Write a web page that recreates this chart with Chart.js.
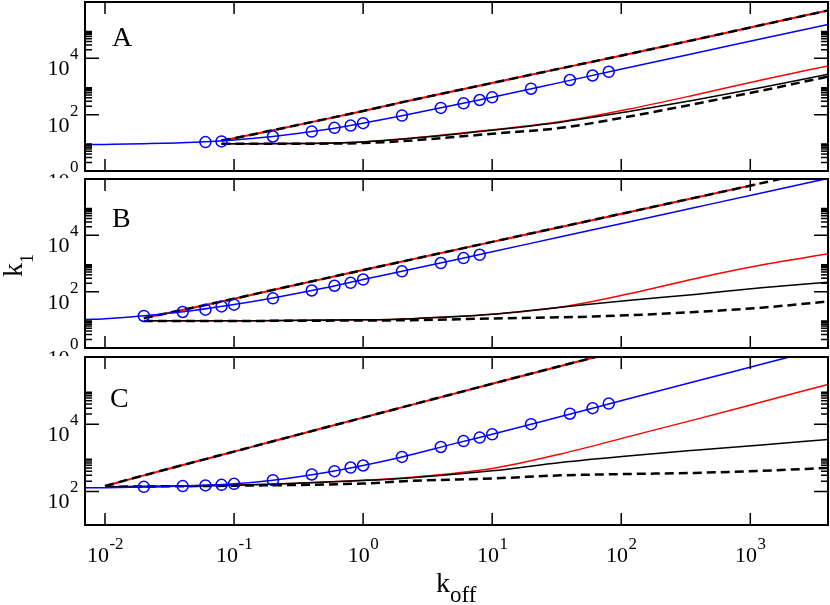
<!DOCTYPE html>
<html>
<head>
<meta charset="utf-8">
<script src="https://cdn.jsdelivr.net/npm/chart.js@4.4.1/dist/chart.umd.min.js"></script>
<style>
  body { margin: 0; background: #fff; }
  #wrap { position: relative; width: 830px; height: 605px; }
  .panel { position: absolute; left: 0; width: 830px; }
</style>
</head>
<body>
<div id="wrap">
  <div class="panel" style="top:0;height:178px"><canvas id="chartA"></canvas></div>
  <div class="panel" style="top:178px;height:178px"><canvas id="chartB"></canvas></div>
  <div class="panel" style="top:356px;height:249px"><canvas id="chartC"></canvas></div>
</div>
<script>
// axis ticks (labels are 10 with these exponents)
const xTicks = [0.01, 0.1, 1, 10, 100, 1000];
const xTickExp = ['-2', '-1', '0', '1', '2', '3'];
const yMajor = [1, 100, 10000];
const yMajorExp = ['0', '2', '4'];
const yMinor = [2, 3, 4, 5, 6, 7, 8, 9,
                200, 300, 400, 500, 600, 700, 800, 900,
                20000, 30000, 40000, 50000, 60000, 70000, 80000, 90000];

// panel A
const aPointsX = [0.06, 0.08, 0.2, 0.4, 0.6, 0.8, 1, 2, 4, 6, 8, 10, 20, 40, 60, 80];
const aPointsY = [10.6, 11.2, 16.8, 25, 34, 41, 50, 93, 174, 253, 332, 412, 835, 1700, 2460, 3330];
const aBlueX = [0.007, 0.01, 0.02, 0.05, 0.1, 0.2, 0.5, 1, 2, 5, 10, 34, 112, 372, 1220, 4000];
const aBlueY = [8.6, 8.8, 9.3, 10.5, 12.6, 16.8, 29, 50, 92, 215, 412, 1400, 4600, 15200, 50000, 160000];
const aUpperX = [0.08, 0.1, 0.2, 0.5, 1, 2.4, 10, 34, 112, 372, 1220, 4000];
const aUpperY = [12, 14.5, 28, 68, 135, 330, 1330, 4400, 13900, 46000, 152000, 500000];
const aLowerX = [0.08, 0.3, 1, 2.4, 10, 34, 112, 372, 1220, 4000];
const aLowerRed = [9.3, 9.5, 10.8, 14.7, 29, 57, 155, 500, 1700, 5400];
const aLowerBlack = [9.3, 9.5, 10.8, 14.5, 28, 54, 127, 333, 920, 2700];
const aLowerDash = [9.2, 9.3, 9.8, 12.2, 21, 34, 84, 240, 710, 2250];

// panel B
const bPointsX = [0.02, 0.04, 0.06, 0.08, 0.1, 0.2, 0.4, 0.6, 0.8, 1, 2, 4, 6, 8];
const bPointsY = [13.7, 19, 23, 30, 34.5, 58, 110, 162, 206, 270, 527, 1040, 1560, 2040];
const bBlueX = [0.007, 0.01, 0.02, 0.05, 0.1, 0.2, 0.5, 1, 2, 5, 10, 34, 112, 372, 1220, 4000];
const bBlueY = [10.3, 11, 14, 22, 35, 60, 135, 270, 530, 1310, 2600, 8900, 29000, 97000, 320000, 1050000];
const bUpperRedX = [0.02, 0.05, 0.1, 0.2, 0.5, 1, 2.4, 10, 34, 112, 372, 1100];
const bUpperRedY = [11.5, 28, 56, 115, 290, 585, 1400, 5850, 19900, 65000, 216000, 640000];
const bUpperDashX = [0.02, 0.05, 0.1, 0.2, 0.5, 1, 2.4, 10, 34, 112, 372, 1100, 1700];
const bUpperDashY = [11.5, 28, 56, 115, 290, 585, 1400, 5850, 19900, 65000, 216000, 640000, 1000000];
const bLowerX = [0.02, 0.1, 1, 2.4, 10, 34, 112, 372, 1220, 4000];
const bLowerRed = [9.2, 9.3, 10, 11, 15.7, 28.5, 82, 290, 880, 2200];
const bLowerBlack = [9.2, 9.3, 10, 11, 15.7, 28, 49, 80, 137, 216];
const bLowerDash = [9.0, 9.1, 9.5, 9.7, 11.2, 12.3, 14.5, 19, 27, 45];

// panel C
const cPointsX = [0.02, 0.04, 0.06, 0.08, 0.1, 0.2, 0.4, 0.6, 0.8, 1, 2, 4, 6, 8, 10, 20, 40, 60, 80];
const cPointsY = [137, 144, 151, 157, 168, 216, 319, 400, 513, 590, 1060, 2100, 3150, 4000, 5000, 10000, 20500, 30000, 41000];
const cBlueX = [0.007, 0.01, 0.02, 0.05, 0.1, 0.2, 0.5, 1, 2, 5, 10, 34, 112, 372, 1220, 2200];
const cBlueY = [128, 129, 135, 148, 168, 216, 360, 590, 1060, 2600, 5000, 17000, 56000, 187000, 610000, 1100000];
const cUpperX = [0.01, 0.02, 0.05, 0.1, 0.2, 0.5, 1, 2.33, 10, 34, 70];
const cUpperY = [145, 300, 760, 1530, 3100, 7800, 15700, 37000, 160000, 540000, 1100000];
const cLowerX = [0.01, 0.1, 1, 2.4, 10, 34, 112, 372, 1220, 4000];
const cLowerRed = [137, 154, 216, 265, 480, 1300, 4200, 13700, 45600, 153000];
const cLowerBlack = [137, 152, 210, 255, 410, 730, 1140, 1680, 2400, 3500];
const cLowerDash = [137, 148, 172, 206, 243, 300, 330, 355, 410, 500];

const FONT = '"Liberation Serif", "Times New Roman", serif';
Chart.defaults.font.family = FONT;
Chart.defaults.color = '#000';

function pts(xs, ys) {
  return xs.map((x, i) => ({ x: x, y: ys[i] }));
}

function solid(xs, ys, color, width) {
  return { data: pts(xs, ys), borderColor: color, borderWidth: width, pointRadius: 0,
           fill: false, cubicInterpolationMode: 'monotone' };
}

function dashed(xs, ys) {
  return { data: pts(xs, ys), borderColor: '#000', borderWidth: 2.5, borderDash: [9, 5],
           pointRadius: 0, fill: false, cubicInterpolationMode: 'monotone' };
}

function circles(xs, ys) {
  return { data: pts(xs, ys), showLine: false, pointStyle: 'circle', pointRadius: 5.5,
           pointBorderWidth: 1.5, pointBorderColor: '#0000ff', pointBackgroundColor: 'rgba(0,0,0,0)' };
}

// "10" with a raised exponent
function powerLabel(ctx, exp, x, base, raise, align) {
  ctx.font = '22px ' + FONT;
  const w10 = ctx.measureText('10').width;
  ctx.font = '17px ' + FONT;
  const wExp = ctx.measureText(exp).width;
  let left = x;
  if (align === 'right') left = x - w10 - wExp;
  if (align === 'center') left = x - (w10 + wExp) / 2;
  ctx.font = '22px ' + FONT;
  ctx.fillText('10', left, base);
  ctx.font = '17px ' + FONT;
  ctx.fillText(exp, left + w10 + 0.5, base - raise);
}

// frame, inward ticks, tick labels, panel letter and axis titles
const framePlugin = {
  id: 'frame',
  afterDraw(chart, args, opts) {
    const ctx = chart.ctx;
    const a = chart.chartArea;
    const x = chart.scales.x;
    const y = chart.scales.y;
    ctx.save();
    ctx.strokeStyle = '#000';
    ctx.lineWidth = 1.5;
    ctx.beginPath();
    x.ticks.forEach(t => {
      const px = x.getPixelForValue(t.value);
      ctx.moveTo(px, a.bottom); ctx.lineTo(px, a.bottom - 12);
      ctx.moveTo(px, a.top); ctx.lineTo(px, a.top + 12);
    });
    y.ticks.forEach(t => {
      const py = y.getPixelForValue(t.value);
      const len = yMajor.includes(t.value) ? 14 : 7;
      ctx.moveTo(a.left, py); ctx.lineTo(a.left + len, py);
      ctx.moveTo(a.right, py); ctx.lineTo(a.right - len, py);
    });
    ctx.stroke();
    ctx.lineWidth = 2;
    ctx.strokeRect(a.left, a.top, a.right - a.left, a.bottom - a.top);

    ctx.fillStyle = '#000';
    ctx.textBaseline = 'alphabetic';
    ctx.textAlign = 'left';

    y.ticks.forEach(t => {
      const k = yMajor.indexOf(t.value);
      if (k < 0) return;
      const py = y.getPixelForValue(t.value);
      powerLabel(ctx, yMajorExp[k], a.left - 7, py + 17, 16, 'right');
    });
    if (opts.showX) {
      x.ticks.forEach((t, i) => {
        const px = x.getPixelForValue(t.value);
        powerLabel(ctx, xTickExp[i], px, a.bottom + 37, 13, 'center');
      });
    }

    ctx.font = '28px ' + FONT;
    ctx.fillText(opts.letter, opts.letterX, a.top + opts.letterY);

    (opts.titles || []).forEach(tt => {
      ctx.save();
      ctx.translate(tt.x, tt.y);
      if (tt.rotate) ctx.rotate(-Math.PI / 2);
      ctx.font = tt.size + 'px ' + FONT;
      ctx.fillText(tt.text, 0, 0);
      const w = ctx.measureText(tt.text).width;
      ctx.font = tt.subSize + 'px ' + FONT;
      ctx.fillText(tt.sub, w, tt.drop);
      ctx.restore();
    });
    ctx.restore();
  }
};

function makePanel(id, cfg) {
  const yTicks = yMajor.concat(yMinor).filter(v => v >= cfg.yMin && v <= cfg.yMax);
  new Chart(document.getElementById(id), {
    type: 'line',
    data: { datasets: cfg.datasets },
    plugins: [framePlugin],
    options: {
      responsive: true,
      maintainAspectRatio: false,
      animation: false,
      events: [],
      layout: { autoPadding: false, padding: { top: cfg.padTop, right: 2, left: 0, bottom: 0 } },
      plugins: {
        legend: { display: false },
        tooltip: { enabled: false },
        frame: { letter: cfg.letter, letterX: cfg.letterX, letterY: cfg.letterY,
                 titles: cfg.titles, showX: cfg.showX }
      },
      scales: {
        x: {
          type: 'logarithmic',
          min: 0.007,
          max: 4000,
          afterBuildTicks: s => { s.ticks = xTicks.map(v => ({ value: v })); },
          afterFit: s => { s.height = cfg.xHeight; s.paddingLeft = 0; s.paddingRight = 0; },
          grid: { display: false },
          border: { display: false },
          ticks: { display: false }
        },
        y: {
          type: 'logarithmic',
          min: cfg.yMin,
          max: cfg.yMax,
          afterBuildTicks: s => { s.ticks = yTicks.map(v => ({ value: v })); },
          afterFit: s => { s.width = 85; s.paddingTop = 0; s.paddingBottom = 0; },
          grid: { display: false },
          border: { display: false },
          ticks: { display: false }
        }
      }
    }
  });
}

makePanel('chartA', {
  letter: 'A', letterX: 112, letterY: 44, padTop: 2, xHeight: 7, showX: false,
  yMin: 1, yMax: 1000000,
  datasets: [
    circles(aPointsX, aPointsY),
    solid(aBlueX, aBlueY, '#0000ff', 1.5),
    dashed(aUpperX, aUpperY),
    solid(aUpperX, aUpperY, '#ff0000', 2),
    dashed(aLowerX, aLowerDash),
    solid(aLowerX, aLowerBlack, '#000', 1.5),
    solid(aLowerX, aLowerRed, '#ff0000', 1.5)
  ]
});

makePanel('chartB', {
  letter: 'B', letterX: 112, letterY: 48, padTop: 1, xHeight: 8, showX: false,
  yMin: 1, yMax: 1000000,
  titles: [{ text: 'k', sub: '1', x: 22, y: 99, rotate: true, size: 28, subSize: 18, drop: 11 }],
  datasets: [
    circles(bPointsX, bPointsY),
    solid(bBlueX, bBlueY, '#0000ff', 1.5),
    dashed(bUpperDashX, bUpperDashY),
    solid(bUpperRedX, bUpperRedY, '#ff0000', 2),
    dashed(bLowerX, bLowerDash),
    solid(bLowerX, bLowerBlack, '#000', 1.5),
    solid(bLowerX, bLowerRed, '#ff0000', 1.5)
  ]
});

makePanel('chartC', {
  letter: 'C', letterX: 110, letterY: 50, padTop: 1, xHeight: 80, showX: true,
  yMin: 10, yMax: 1000000,
  titles: [{ text: 'k', sub: 'off', x: 436, y: 236, rotate: false, size: 28, subSize: 23, drop: 10 }],
  datasets: [
    circles(cPointsX, cPointsY),
    solid(cBlueX, cBlueY, '#0000ff', 1.5),
    dashed(cUpperX, cUpperY),
    solid(cUpperX, cUpperY, '#ff0000', 2),
    dashed(cLowerX, cLowerDash),
    solid(cLowerX, cLowerBlack, '#000', 1.5),
    solid(cLowerX, cLowerRed, '#ff0000', 1.5)
  ]
});
</script>
</body>
</html>
